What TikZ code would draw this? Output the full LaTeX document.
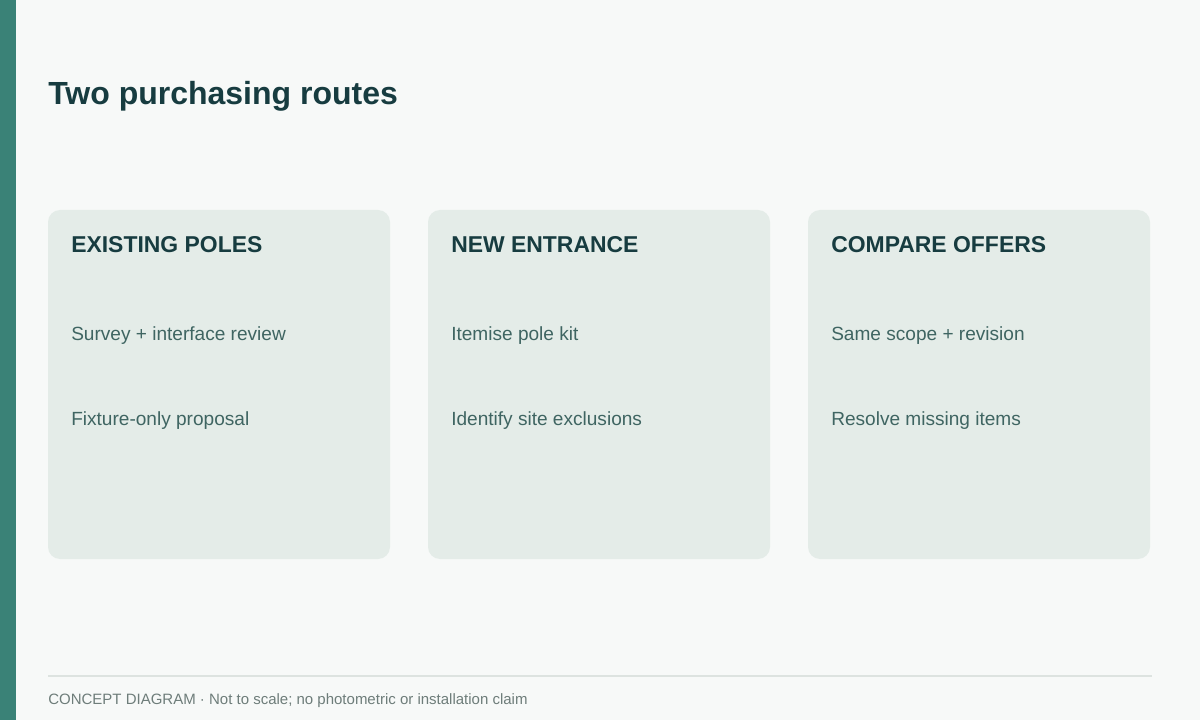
\documentclass[tikz,border=0pt]{standalone}
\usepackage{fontspec}
\setmainfont{Liberation Sans}
\usetikzlibrary{positioning}
\definecolor{pagebg}{HTML}{F7F9F8}
\definecolor{barteal}{HTML}{3A8277}
\definecolor{cardbg}{HTML}{E4ECE8}
\definecolor{inkdark}{HTML}{173C40}
\definecolor{inkbody}{HTML}{3F6562}
\definecolor{inkfoot}{HTML}{6E7D7A}
\definecolor{rulegrey}{HTML}{DDE3E0}

\begin{document}
\begin{tikzpicture}[x=0.75pt,y=-0.75pt,
    card/.style={fill=cardbg, rounded corners=9pt, draw=none},
    cardhead/.style={anchor=base west, inner sep=0pt, text=inkdark, font=\bfseries\fontsize{17.2}{20}\selectfont},
    cardline/.style={anchor=base west, inner sep=0pt, text=inkbody, font=\fontsize{14.3}{17}\selectfont}]
        % Page and side bar:
        \fill [pagebg] (0,0) rectangle (1200,720);
        \fill [barteal] (0,0) rectangle (16,720);
        \useasboundingbox (0,0) rectangle (1200,720);

        % Title:
        \node [anchor=base west, inner sep=0pt, text=inkdark, font=\bfseries\fontsize{24}{28}\selectfont] (title) at (48,105) {Two purchasing routes};

        % Cards:
        % One per column, heading and two lines placed from the card's left edge:
        \foreach \n/\x/\head/\one/\two in {%
            1/48/EXISTING POLES/Survey + interface review/Fixture-only proposal,
            2/428/NEW ENTRANCE/Itemise pole kit/Identify site exclusions,
            3/808/COMPARE OFFERS/Same scope + revision/Resolve missing items}{%
            \draw [card] (\x,210) rectangle (\x+342,559);
            \node [cardhead] (head\n) at (\x+23,253) {\head};
            \node [cardline] (first\n) at (\x+23,340) {\one};
            \node [cardline] (second\n) at (\x+23,425) {\two};
        }

        % Footer:
        \draw [rulegrey, line width=0.9pt] (48,676) -- (1152,676);
        \node [anchor=base west, inner sep=0pt, text=inkfoot, font=\fontsize{11.25}{14}\selectfont] (footer) at (48,704) {CONCEPT DIAGRAM · Not to scale; no photometric or installation claim};
    \end{tikzpicture}
\end{document}
